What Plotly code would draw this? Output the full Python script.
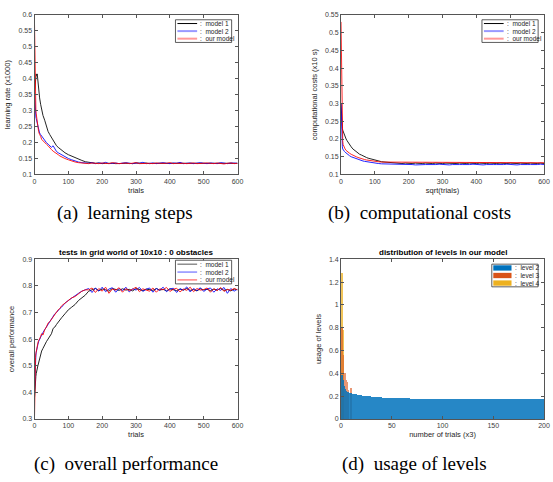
import plotly.graph_objects as go

# ---------------- data ----------------
TRIALS_EARLY = [0, 1, 2, 3, 4, 5, 6, 8, 10, 12,
                15, 18, 21, 25, 30, 35, 40, 45, 50, 55,
                60, 65, 70, 75, 80, 90, 100, 110, 120, 130,
                140, 150]
TRIALS_TAIL = list(range(160, 601, 10))
TRIALS = TRIALS_EARLY + TRIALS_TAIL

# (a) learning steps
A_M1 = [0.36, 0.37, 0.39, 0.40, 0.41, 0.415, 0.41, 0.415, 0.39, 0.37,
        0.34, 0.32, 0.30, 0.285, 0.27, 0.25, 0.235, 0.225, 0.215, 0.21,
        0.20, 0.19, 0.185, 0.18, 0.175, 0.168, 0.162, 0.157, 0.152, 0.148,
        0.144, 0.14,
        0.138, 0.136, 0.135, 0.136, 0.134, 0.135, 0.136, 0.135, 0.134,
        0.135, 0.136, 0.135, 0.135, 0.134, 0.136, 0.135, 0.135, 0.136,
        0.134, 0.135, 0.135, 0.136, 0.135, 0.134, 0.135, 0.136, 0.135,
        0.135, 0.134, 0.136, 0.135, 0.135, 0.136, 0.134, 0.135, 0.135,
        0.136, 0.135, 0.134, 0.135, 0.136, 0.135, 0.134, 0.135, 0.135]
A_M2 = [0.36, 0.32, 0.30, 0.29, 0.28, 0.275, 0.27, 0.26, 0.25, 0.24,
        0.23, 0.225, 0.22, 0.215, 0.205, 0.20, 0.195, 0.19, 0.185, 0.19,
        0.18, 0.172, 0.168, 0.165, 0.16, 0.155, 0.15, 0.146, 0.142, 0.139,
        0.137, 0.136,
        0.135, 0.137, 0.134, 0.136, 0.135, 0.138, 0.134, 0.135, 0.136,
        0.134, 0.135, 0.137, 0.135, 0.134, 0.136, 0.135, 0.138, 0.134,
        0.135, 0.136, 0.134, 0.135, 0.137, 0.135, 0.134, 0.136, 0.135,
        0.138, 0.134, 0.135, 0.136, 0.134, 0.135, 0.137, 0.135, 0.134,
        0.136, 0.135, 0.134, 0.137, 0.135, 0.134, 0.136, 0.135, 0.135]
A_OUR = [0.57, 0.45, 0.38, 0.33, 0.30, 0.29, 0.28, 0.26, 0.25, 0.235,
         0.225, 0.22, 0.21, 0.205, 0.20, 0.195, 0.19, 0.183, 0.178, 0.173,
         0.17, 0.166, 0.162, 0.158, 0.155, 0.15, 0.146, 0.142, 0.139, 0.137,
         0.136, 0.135,
         0.134, 0.136, 0.135, 0.134, 0.136, 0.135, 0.134, 0.137, 0.135,
         0.134, 0.135, 0.136, 0.134, 0.135, 0.137, 0.134, 0.135, 0.136,
         0.135, 0.134, 0.136, 0.135, 0.134, 0.135, 0.137, 0.134, 0.135,
         0.136, 0.135, 0.134, 0.135, 0.136, 0.134, 0.135, 0.134, 0.136,
         0.135, 0.134, 0.136, 0.135, 0.133, 0.135, 0.136, 0.134, 0.135]

# (b) computational costs
B_M1 = [0.30, 0.27, 0.25, 0.24, 0.23, 0.225, 0.222, 0.22, 0.215, 0.208,
        0.20, 0.195, 0.19, 0.185, 0.178, 0.172, 0.168, 0.164, 0.16, 0.157,
        0.155, 0.152, 0.15, 0.148, 0.146, 0.143, 0.14, 0.138, 0.136, 0.135,
        0.134, 0.133,
        0.132, 0.132, 0.131, 0.132, 0.131, 0.131, 0.132, 0.131, 0.131,
        0.132, 0.131, 0.131, 0.132, 0.131, 0.131, 0.132, 0.131, 0.131,
        0.131, 0.132, 0.131, 0.131, 0.132, 0.131, 0.131, 0.132, 0.131,
        0.131, 0.132, 0.131, 0.131, 0.132, 0.131, 0.131, 0.132, 0.131,
        0.131, 0.132, 0.131, 0.131, 0.132, 0.131, 0.131, 0.132, 0.131]
B_M2 = [0.30, 0.24, 0.20, 0.185, 0.178, 0.172, 0.17, 0.167, 0.165, 0.163,
        0.16, 0.158, 0.156, 0.153, 0.15, 0.148, 0.146, 0.144, 0.142, 0.14,
        0.139, 0.138, 0.137, 0.136, 0.135, 0.133, 0.132, 0.131, 0.13, 0.13,
        0.129, 0.129,
        0.128, 0.129, 0.128, 0.128, 0.129, 0.128, 0.127, 0.128, 0.129,
        0.128, 0.128, 0.127, 0.128, 0.129, 0.128, 0.128, 0.127, 0.128,
        0.129, 0.128, 0.128, 0.127, 0.128, 0.129, 0.128, 0.128, 0.127,
        0.128, 0.129, 0.128, 0.128, 0.127, 0.128, 0.129, 0.128, 0.128,
        0.127, 0.128, 0.129, 0.128, 0.128, 0.127, 0.128, 0.129, 0.128]
B_OUR = [0.53, 0.42, 0.30, 0.24, 0.21, 0.195, 0.185, 0.178, 0.175, 0.172,
         0.168, 0.165, 0.162, 0.16, 0.157, 0.154, 0.152, 0.15, 0.148, 0.146,
         0.145, 0.143, 0.142, 0.141, 0.14, 0.138, 0.137, 0.136, 0.135, 0.135,
         0.134, 0.134,
         0.133, 0.134, 0.133, 0.134, 0.133, 0.133, 0.134, 0.133, 0.134,
         0.133, 0.134, 0.133, 0.133, 0.134, 0.133, 0.134, 0.133, 0.133,
         0.134, 0.133, 0.134, 0.133, 0.133, 0.134, 0.133, 0.134, 0.133,
         0.133, 0.134, 0.133, 0.134, 0.133, 0.133, 0.134, 0.133, 0.134,
         0.133, 0.133, 0.134, 0.133, 0.134, 0.133, 0.133, 0.134, 0.133]

# (c) overall performance
C_M1 = [0.38, 0.42, 0.44, 0.45, 0.46, 0.47, 0.48, 0.49, 0.50, 0.51,
        0.53, 0.545, 0.555, 0.565, 0.58, 0.59, 0.60, 0.61, 0.62, 0.64,
        0.645, 0.655, 0.665, 0.675, 0.68, 0.695, 0.71, 0.72, 0.73, 0.745,
        0.755, 0.765,
        0.78, 0.785, 0.79, 0.782, 0.788, 0.785, 0.78, 0.79, 0.786,
        0.783, 0.789, 0.784, 0.787, 0.781, 0.79, 0.785, 0.782, 0.788,
        0.786, 0.783, 0.79, 0.784, 0.787, 0.781, 0.789, 0.785, 0.782,
        0.788, 0.784, 0.79, 0.783, 0.786, 0.781, 0.789, 0.785, 0.787,
        0.782, 0.788, 0.784, 0.79, 0.783, 0.786, 0.781, 0.788, 0.785]
C_M2 = [0.40, 0.46, 0.50, 0.52, 0.54, 0.55, 0.56, 0.575, 0.58, 0.59,
        0.60, 0.605, 0.615, 0.625, 0.635, 0.645, 0.655, 0.665, 0.68, 0.69,
        0.695, 0.70, 0.71, 0.715, 0.72, 0.735, 0.745, 0.755, 0.765, 0.772,
        0.78, 0.785,
        0.79, 0.775, 0.792, 0.78, 0.795, 0.778, 0.788, 0.793, 0.776,
        0.79, 0.782, 0.795, 0.777, 0.789, 0.784, 0.794, 0.779, 0.787,
        0.792, 0.776, 0.79, 0.783, 0.795, 0.778, 0.788, 0.791, 0.775,
        0.789, 0.784, 0.796, 0.777, 0.79, 0.782, 0.793, 0.779, 0.788,
        0.792, 0.776, 0.789, 0.783, 0.794, 0.772, 0.79, 0.78, 0.788]
C_OUR = [0.31, 0.45, 0.50, 0.53, 0.545, 0.555, 0.565, 0.575, 0.585, 0.595,
         0.60, 0.61, 0.62, 0.615, 0.635, 0.645, 0.66, 0.665, 0.675, 0.685,
         0.695, 0.70, 0.71, 0.715, 0.725, 0.735, 0.745, 0.755, 0.76, 0.77,
         0.78, 0.785,
         0.785, 0.792, 0.775, 0.79, 0.78, 0.795, 0.772, 0.788, 0.784,
         0.793, 0.776, 0.79, 0.782, 0.787, 0.795, 0.778, 0.789, 0.784,
         0.78, 0.792, 0.776, 0.789, 0.785, 0.794, 0.779, 0.787, 0.791,
         0.777, 0.788, 0.783, 0.795, 0.778, 0.79, 0.784, 0.786, 0.792,
         0.776, 0.789, 0.782, 0.794, 0.779, 0.787, 0.783, 0.79, 0.785]

# (d) usage of levels
BINS = list(range(1, 201))
LEVEL2 = [0.38, 0.34, 0.29, 0.26, 0.245, 0.238, 0.232, 0.228, 0.225, 0.222,
          0.22, 0.218, 0.216, 0.214, 0.212, 0.21, 0.208, 0.207, 0.206, 0.204,
          0.203, 0.202, 0.201, 0.2, 0.199, 0.198, 0.197, 0.196, 0.195, 0.194,
          0.193, 0.192, 0.191, 0.19, 0.189, 0.188, 0.187, 0.186, 0.186, 0.185,
          0.184, 0.184, 0.183, 0.183, 0.182, 0.182, 0.181, 0.181, 0.18, 0.18,
          0.18, 0.179, 0.179, 0.179, 0.178, 0.178, 0.178, 0.178, 0.177, 0.177,
          0.177, 0.177, 0.177, 0.177, 0.177, 0.176, 0.177, 0.176, 0.176, 0.176,
          0.176, 0.176, 0.176, 0.176, 0.176, 0.176, 0.176, 0.175, 0.176, 0.176,
          0.176, 0.175, 0.176, 0.175, 0.176, 0.175, 0.175, 0.176, 0.175, 0.175,
          0.175, 0.175, 0.176, 0.175, 0.175, 0.175, 0.175, 0.175, 0.175, 0.175,
          0.175, 0.175, 0.175, 0.175, 0.175, 0.175, 0.175, 0.175, 0.175, 0.175,
          0.175, 0.175, 0.175, 0.175, 0.175, 0.175, 0.175, 0.175, 0.175, 0.175,
          0.175, 0.175, 0.175, 0.175, 0.175, 0.175, 0.175, 0.175, 0.175, 0.175,
          0.175, 0.175, 0.175, 0.175, 0.175, 0.175, 0.175, 0.175, 0.175, 0.175,
          0.175, 0.175, 0.175, 0.175, 0.175, 0.175, 0.175, 0.175, 0.175, 0.175,
          0.175, 0.175, 0.175, 0.175, 0.175, 0.175, 0.175, 0.175, 0.175, 0.175,
          0.175, 0.175, 0.175, 0.175, 0.175, 0.175, 0.175, 0.175, 0.175, 0.175,
          0.175, 0.175, 0.175, 0.175, 0.175, 0.175, 0.175, 0.175, 0.175, 0.175,
          0.175, 0.175, 0.175, 0.175, 0.175, 0.175, 0.175, 0.175, 0.175, 0.175,
          0.175, 0.175, 0.175, 0.175, 0.175, 0.175, 0.175, 0.175, 0.175, 0.175]
LEVEL3_BINS = [1, 2, 3, 4, 5, 6, 7, 10]
LEVEL3 = [0.80, 0.56, 0.40, 0.40, 0.34, 0.32, 0.25, 0.27]
LEVEL4_BINS = [1, 2]
LEVEL4 = [1.28, 0.78]

SERIES_NAMES = [":  model 1", ":  model 2", ":  our model"]
LEVEL_NAMES = [":  level 2", ":  level 3", ":  level 4"]

# ---------------- figure ----------------
W, H = 553, 482
LINE_COLORS = ["#000000", "#0000ff", "#ff0000"]
BAR_COLORS = ["#0072BD", "#D95319", "#EDB120"]
SANS = "Liberation Sans, Arial, sans-serif"
TICK_FONT = dict(family=SANS, size=7, color="#404040")
TITLE_FONT = dict(family=SANS, size=7.5, color="#262626")


def px_dom(a, b, total, flip=False):
    if flip:
        return [1 - b / total, 1 - a / total]
    return [a / total, b / total]


def px(xp):
    return xp / W


def py(yp):
    return 1 - yp / H


fig = go.Figure()

panels = [
    ("x", "y", [A_M1, A_M2, A_OUR]),
    ("x2", "y2", [B_M1, B_M2, B_OUR]),
    ("x3", "y3", [C_M1, C_M2, C_OUR]),
]
for xa, ya, ser in panels:
    for name, col, vals in zip(SERIES_NAMES, LINE_COLORS, ser):
        fig.add_trace(go.Scatter(
            x=TRIALS, y=vals, mode="lines", name=name,
            line=dict(color=col, width=1), opacity=0.85,
            xaxis=xa, yaxis=ya, showlegend=False))

# bars: level 4 first, then 3, then 2 on top
fig.add_trace(go.Bar(x=LEVEL4_BINS, y=LEVEL4, name=LEVEL_NAMES[2], width=1.6,
                     marker=dict(color=BAR_COLORS[2], line=dict(width=0)), opacity=0.75,
                     xaxis="x4", yaxis="y4", showlegend=False))
fig.add_trace(go.Bar(x=LEVEL3_BINS, y=LEVEL3, name=LEVEL_NAMES[1], width=1.2,
                     marker=dict(color=BAR_COLORS[1], line=dict(width=0)), opacity=0.6,
                     xaxis="x4", yaxis="y4", showlegend=False))
fig.add_trace(go.Bar(x=BINS, y=LEVEL2, name=LEVEL_NAMES[0], width=0.9,
                     marker=dict(color=BAR_COLORS[0], line=dict(width=0)), opacity=0.85,
                     xaxis="x4", yaxis="y4", showlegend=False))


def axis_common():
    return dict(showline=True, linecolor="#555555", linewidth=1, mirror="ticks",
                ticks="inside", ticklen=3, tickcolor="#555555", showgrid=False,
                zeroline=False, tickfont=TICK_FONT, title_font=TITLE_FONT)


left = (33, 239)
right = (344, 550)
top = (11, 173)
bottom = (259, 421)

layout_axes = {
    "xaxis": dict(domain=px_dom(*left, W), range=[0, 600], dtick=100, anchor="y",
                  title=dict(text="trials", standoff=3), **axis_common()),
    "yaxis": dict(domain=px_dom(*top, H, True), range=[0.1, 0.6], dtick=0.05, anchor="x",
                  title=dict(text="learning rate (x1000)", standoff=6), **axis_common()),
    "xaxis2": dict(domain=px_dom(*right, W), range=[0, 600], dtick=100, anchor="y2",
                   title=dict(text="sqrt(trials)", standoff=3), **axis_common()),
    "yaxis2": dict(domain=px_dom(*top, H, True), range=[0.1, 0.55], dtick=0.05, anchor="x2",
                   title=dict(text="computational costs (x10 s)", standoff=6), **axis_common()),
    "xaxis3": dict(domain=px_dom(*left, W), range=[0, 600], dtick=100, anchor="y3",
                   title=dict(text="trials", standoff=3), **axis_common()),
    "yaxis3": dict(domain=px_dom(*bottom, H, True), range=[0.3, 0.9], dtick=0.1, anchor="x3",
                   title=dict(text="overall performance", standoff=6), **axis_common()),
    "xaxis4": dict(domain=px_dom(*right, W), range=[0, 200], dtick=50, anchor="y4",
                   title=dict(text="number of trials (x3)", standoff=3), **axis_common()),
    "yaxis4": dict(domain=px_dom(*bottom, H, True), range=[0, 1.4], dtick=0.2, anchor="x4",
                   title=dict(text="usage of levels", standoff=6), **axis_common()),
}

shapes = []
annotations = []
LEG_FONT = dict(family=SANS, size=6.5, color="#262626")


def add_legend(x0, y0, x1, y1, names, styles, kind="line"):
    shapes.append(dict(type="rect", xref="paper", yref="paper",
                       x0=px(x0), x1=px(x1), y0=py(y1), y1=py(y0),
                       line=dict(color="#333333", width=0.8), fillcolor="white", layer="above"))
    n = len(names)
    step = (y1 - y0) / n
    for i, (nm, st) in enumerate(zip(names, styles)):
        yc = y0 + step * (i + 0.5)
        if kind == "line":
            shapes.append(dict(type="line", xref="paper", yref="paper",
                               x0=px(x0 + 2), x1=px(x0 + 22), y0=py(yc), y1=py(yc),
                               line=dict(color=st[0], width=st[1]), layer="above"))
            tx = x0 + 23
        else:
            shapes.append(dict(type="rect", xref="paper", yref="paper",
                               x0=px(x0 + 1.5), x1=px(x0 + 20), y0=py(yc + 2.7), y1=py(yc - 2.7),
                               line=dict(width=0), fillcolor=st[0], layer="above"))
            tx = x0 + 21
        annotations.append(dict(text=nm, x=px(tx), y=py(yc), xref="paper", yref="paper",
                                xanchor="left", yanchor="middle", showarrow=False,
                                font=LEG_FONT))


LIGHT_STYLES = [("#000000", 1), ("#9999ff", 2), ("#ff9999", 2)]
THIN_STYLES = [("#555555", 1), ("#5555ff", 1), ("#ff4444", 1)]
add_legend(176, 16, 233, 39, SERIES_NAMES, LIGHT_STYLES)
add_legend(487, 16, 544, 39, SERIES_NAMES, LIGHT_STYLES)
add_legend(176, 260, 233, 284, SERIES_NAMES, THIN_STYLES)
add_legend(497, 264, 544, 287, LEVEL_NAMES, [(c,) for c in BAR_COLORS], kind="rect")

TFONT = dict(family=SANS, size=8, color="#000000")
annotations.append(dict(text="<b>tests in grid world of 10x10 : 0 obstacles</b>",
                        x=px((left[0] + left[1]) / 2), y=py(252), xref="paper", yref="paper",
                        xanchor="center", yanchor="middle", showarrow=False, font=TFONT))
annotations.append(dict(text="<b>distribution of levels in our model</b>",
                        x=px((right[0] + right[1]) / 2), y=py(252), xref="paper", yref="paper",
                        xanchor="center", yanchor="middle", showarrow=False, font=TFONT))

CAP_FONT = dict(family="Liberation Serif, Times New Roman, serif", size=19, color="#000000")
for txt, cx, cy in [("(a)\u2002learning steps", 125, 212),
                    ("(b)\u2002computational costs", 424, 212),
                    ("(c)\u2002overall performance", 126, 467),
                    ("(d)\u2002usage of levels", 419, 467)]:
    annotations.append(dict(text=txt, x=px(cx), y=py(cy), xref="paper", yref="paper",
                            xanchor="center", yanchor="middle", showarrow=False, font=CAP_FONT))

fig.update_layout(
    width=W, height=H, margin=dict(l=0, r=0, t=0, b=0),
    paper_bgcolor="white", plot_bgcolor="white",
    barmode="overlay", bargap=0, showlegend=False,
    annotations=annotations, shapes=shapes,
    **layout_axes,
)

fig.write_html(
    "out.html",
    config={"displayModeBar": False},
    post_script=("document.documentElement.style.margin='0';"
                 "document.documentElement.style.overflow='hidden';"
                 "document.body.style.margin='0';"
                 "document.body.style.overflow='hidden';"),
)
